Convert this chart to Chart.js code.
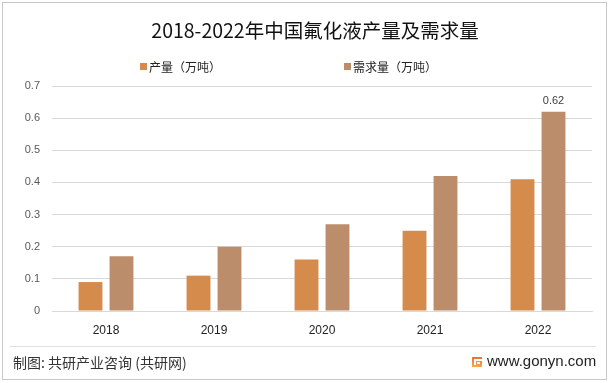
<!DOCTYPE html>
<html>
<head>
<meta charset="utf-8">
<script src="https://cdn.jsdelivr.net/npm/chart.js@4"></script>
<style>
  html, body { margin: 0; padding: 0; background: #fff; }
  #wrap { width: 610px; height: 383px; position: relative; }
</style>
</head>
<body>
<div id="wrap"><canvas id="fluorideChart"></canvas></div>
<script>
const years = ["2018", "2019", "2020", "2021", "2022"];
const output = [0.09, 0.11, 0.16, 0.25, 0.41];
const demand = [0.17, 0.20, 0.27, 0.42, 0.62];
const seriesNames = ["产量（万吨）", "需求量（万吨）"];
const yTicks = [0, 0.1, 0.2, 0.3, 0.4, 0.5, 0.6, 0.7];

const CJK = '"Noto Sans CJK SC", "Microsoft YaHei", sans-serif';
const NUM = '"Liberation Sans", Arial, sans-serif';

// 标题、图例、页脚、边框都在画布上自己画
const decor = {
  id: "decor",
  afterDraw(chart) {
    const c = chart.ctx;
    c.save();
    // 外框
    c.strokeStyle = "#c8c8c8";
    c.lineWidth = 1;
    c.strokeRect(2.5, 2.5, 604, 377);

    // 标题
    c.fillStyle = "#111";
    c.font = "19.5px " + CJK;
    c.textAlign = "center";
    c.textBaseline = "middle";
    c.fillText("2018-2022年中国氟化液产量及需求量", 315, 31);

    // 图例
    c.font = "12px " + CJK;
    c.textAlign = "left";
    const legendX = [140, 344];
    chart.data.datasets.forEach((ds, i) => {
      c.fillStyle = ds.backgroundColor;
      c.fillRect(legendX[i], 63, 7, 7);
      c.fillStyle = "#222";
      c.fillText(ds.label, legendX[i] + 9, 67);
    });

    // 0.62 数据标签
    const bar = chart.getDatasetMeta(1).data[4];
    c.fillStyle = "#404040";
    c.font = "11px " + NUM;
    c.textAlign = "center";
    c.fillText(demand[4].toFixed(2), bar.x, bar.y - 11);

    // 页脚
    c.strokeStyle = "#e0e0e0";
    c.beginPath();
    c.moveTo(10, 346.5);
    c.lineTo(596, 346.5);
    c.stroke();
    c.fillStyle = "#333";
    c.font = "14px " + CJK;
    c.textAlign = "left";
    c.fillText("制图: 共研产业咨询 (共研网)", 13, 363);

    // logo
    const g = c.createLinearGradient(0, 357, 0, 368);
    g.addColorStop(0, "#f26a3d");
    g.addColorStop(1, "#f6b24a");
    c.fillStyle = g;
    c.fillRect(472, 357, 10, 10);
    c.fillStyle = "#fff";
    c.fillRect(474, 359, 8, 2);
    c.fillRect(474, 361, 2, 4);
    c.fillRect(477, 362, 3, 2);
    c.fillStyle = "#222";
    c.font = "15px " + NUM;
    c.fillText("www.gonyn.com", 487, 362);
    c.restore();
  }
};

const chart = new Chart(document.getElementById("fluorideChart"), {
  type: "bar",
  data: {
    labels: years,
    datasets: [
      { label: seriesNames[0], data: output, backgroundColor: "#d48b4c" },
      { label: seriesNames[1], data: demand, backgroundColor: "#bc8d6b" }
    ]
  },
  options: {
    responsive: true,
    maintainAspectRatio: false,
    animation: false,
    events: [],
    layout: { padding: { top: 86, right: 18, left: 0, bottom: 0 } },
    datasets: {
      bar: { categoryPercentage: 0.574, barPercentage: 0.77 }
    },
    plugins: {
      legend: { display: false },
      title: { display: false },
      tooltip: { enabled: false }
    },
    scales: {
      x: {
        grid: { display: false, drawTicks: false },
        border: { color: "#d9d9d9" },
        ticks: { color: "#222", font: { size: 12, family: NUM }, padding: 12 },
        afterFit(s) { s.height = 72; }
      },
      y: {
        min: 0,
        max: 0.7,
        afterBuildTicks(s) { s.ticks = yTicks.map(v => ({ value: v })); },
        grid: { color: "#d9d9d9", drawTicks: false },
        border: { display: false },
        ticks: {
          color: "#595959",
          font: { size: 11, family: NUM },
          padding: 12,
          callback: v => (v === 0 ? "0" : v.toFixed(1))
        },
        afterFit(s) { s.width = 52; }
      }
    }
  },
  plugins: [decor]
});
</script>
</body>
</html>
